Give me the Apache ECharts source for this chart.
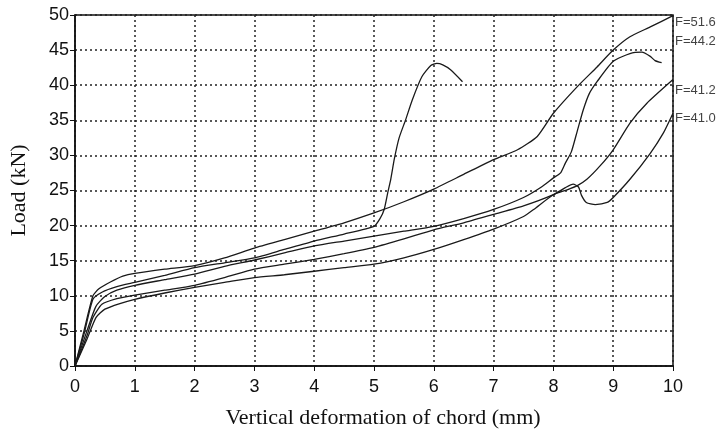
<!DOCTYPE html>
<html lang="en">
<head>
<meta charset="UTF-8">
<title>Load vs vertical deformation of chord</title>
<script src="https://cdn.jsdelivr.net/npm/echarts@6/dist/echarts.min.js"></script>
<style>
  html, body { margin: 0; padding: 0; background: #fff; }
  #chart { width: 722px; height: 434px; }
</style>
</head>
<body>
<div id="chart"></div>
<script>
// x ticks (mm) and y ticks (kN)
var xTicks = [0, 1, 2, 3, 4, 5, 6, 7, 8, 9, 10];
var yTicks = [0, 5, 10, 15, 20, 25, 30, 35, 40, 45, 50];

// curve ending at F=51.6
var curveA = [[0,0],[0.15,5],[0.3,10],[0.4,11],[0.6,12],[0.8,12.8],[1,13.2],[1.5,13.8],[2,14.3],[2.5,15.4],[3,16.8],[3.5,18.0],[4,19.2],[4.5,20.4],[5,21.8],[5.5,23.4],[6,25.2],[6.5,27.3],[7,29.4],[7.4,30.8],[7.73,32.7],[8,36.0],[8.4,39.8],[8.73,42.6],[9,45.0],[9.28,46.9],[9.62,48.3],[10,49.9]];
// curve with the early jump, peak near x=6
var curveB = [[0,0],[0.15,4.5],[0.3,9.5],[0.45,10.5],[0.7,11.3],[1,11.9],[1.5,12.9],[2,14.0],[2.5,14.7],[3,15.4],[3.5,16.6],[4,17.8],[4.5,18.8],[5,19.9],[5.1,21.0],[5.17,22.3],[5.23,24.7],[5.28,26.6],[5.34,29.5],[5.42,32.5],[5.53,35.1],[5.64,37.9],[5.8,41.2],[5.95,42.8],[6.05,43.1],[6.15,42.9],[6.28,42.2],[6.48,40.5]];
// curve peaking near 44.7 at x=9.5
var curveC = [[0,0],[0.2,5],[0.35,8.5],[0.5,9.9],[0.7,10.8],[1,11.5],[1.5,12.3],[2,13.1],[2.5,14.2],[3,15.1],[3.5,16.1],[4,17.1],[4.5,17.8],[5,18.5],[5.5,19.2],[6,19.9],[6.5,21.0],[7,22.3],[7.5,24.0],[7.8,25.5],[8,26.8],[8.12,27.5],[8.2,28.9],[8.3,30.5],[8.4,33.5],[8.5,36.5],[8.6,38.8],[8.73,40.5],[9,43.4],[9.28,44.5],[9.48,44.7],[9.62,44.1],[9.7,43.5],[9.81,43.2]];
// curve ending at F=41.2
var curveD = [[0,0],[0.2,3.8],[0.35,6.9],[0.5,8.1],[0.75,8.9],[1,9.5],[1.5,10.4],[2,11.2],[2.5,11.9],[3,12.6],[3.5,13.0],[4,13.5],[4.5,14.0],[5,14.5],[5.5,15.4],[6,16.6],[6.5,18.0],[7,19.5],[7.5,21.3],[7.67,22.3],[8,24.4],[8.23,25.1],[8.4,25.7],[8.56,26.6],[8.78,28.5],[9,30.8],[9.28,34.6],[9.56,37.4],[10,40.8]];
// curve ending at F=41.0 (with the dip)
var curveE = [[0,0],[0.2,4.3],[0.3,6.9],[0.45,8.8],[0.7,9.6],[1,10.1],[1.5,10.8],[2,11.5],[2.5,12.6],[3,13.8],[3.5,14.5],[4,15.2],[4.5,16.0],[5,16.9],[5.5,18.1],[6,19.4],[6.5,20.4],[7,21.6],[7.5,22.8],[8,24.4],[8.2,25.4],[8.33,25.9],[8.42,25.5],[8.47,24.3],[8.55,23.3],[8.7,23.0],[8.9,23.3],[9,24.0],[9.28,26.6],[9.62,30.3],[9.84,33.2],[10,36.0]];

// failure loads written at the right edge
var labelText = ['F=51.6', 'F=44.2', 'F=41.2', 'F=41.0'];
var labelLoad = [49.0, 46.2, 39.2, 35.3];

var chart = echarts.init(document.getElementById('chart'));

var lineColor = '#1a1a1a';
function curve(data) {
  return {
    type: 'line',
    data: data,
    symbol: 'none',
    smooth: 0.2,
    lineStyle: { color: lineColor, width: 1.3 },
    animation: false
  };
}

var labelData = labelLoad.map(function (v, i) {
  return { value: [xTicks[xTicks.length - 1], v], name: labelText[i] };
});

var option = {
  backgroundColor: '#fff',
  grid: {
    left: 73, right: 49, top: 15, bottom: 67,
    show: true, borderColor: '#111', borderWidth: 1.5
  },
  xAxis: {
    type: 'value',
    min: xTicks[0], max: xTicks[xTicks.length - 1], interval: 1,
    name: 'Vertical deformation of chord (mm)',
    nameLocation: 'middle', nameGap: 41,
    nameTextStyle: { fontFamily: 'Liberation Serif', fontSize: 22, color: '#111', padding: [0, 0, 0, 18] },
    axisLine: { show: true, lineStyle: { color: '#111', width: 1.5 } },
    axisTick: { show: true, inside: false, length: 5, lineStyle: { color: '#111' } },
    axisLabel: { margin: 12, fontFamily: 'Liberation Sans', fontSize: 18, color: '#111' },
    splitLine: { show: true, lineStyle: { color: '#222', width: 1.5, type: [2, 3] } }
  },
  yAxis: {
    type: 'value',
    min: yTicks[0], max: yTicks[yTicks.length - 1], interval: 5,
    name: 'Load (kN)',
    nameLocation: 'middle', nameGap: 45,
    nameTextStyle: { fontFamily: 'Liberation Serif', fontSize: 22, color: '#111' },
    axisLine: { show: true, lineStyle: { color: '#111', width: 1.5 } },
    axisTick: { show: true, inside: false, length: 5, lineStyle: { color: '#111' } },
    axisLabel: { margin: 6, fontFamily: 'Liberation Sans', fontSize: 18, color: '#111' },
    splitLine: { show: true, lineStyle: { color: '#222', width: 1.5, type: [2, 3] } }
  },
  series: [
    curve(curveA),
    curve(curveB),
    curve(curveC),
    curve(curveD),
    curve(curveE),
    {
      type: 'scatter',
      data: labelData,
      symbolSize: 0,
      clip: false,
      silent: true,
      animation: false,
      label: {
        show: true,
        position: 'right',
        distance: 2,
        formatter: '{b}',
        fontFamily: 'Liberation Sans',
        fontSize: 13,
        color: '#111'
      }
    }
  ]
};
chart.setOption(option);
</script>
</body>
</html>
